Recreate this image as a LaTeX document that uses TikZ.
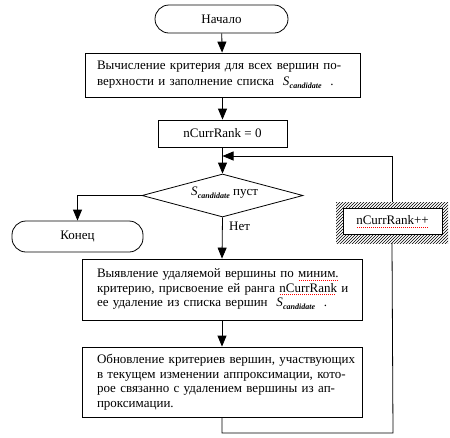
\documentclass[tikz,border=0pt]{standalone}
\usepackage{fontspec}
\setmainfont{Liberation Serif}
\usetikzlibrary{arrows.meta,shapes.geometric,patterns}
\newcommand\candS{\textit{S}\kern0.3pt\raisebox{-3pt}{\fontsize{8}{8}\selectfont\textit{\textbf{candidate}}}}
\newcommand\spl[1]{\leavevmode\setbox0\hbox{#1}\rlap{\raisebox{-2.8pt}{\textcolor{red}{\leaders\hbox to 2pt{\hss\rule{0.9pt}{0.9pt}\hss}\hskip\wd0}}}\box0\relax}
\begin{document}
\begin{tikzpicture}[x=1pt,y=-1pt,font=\fontsize{13}{14.5}\selectfont,
  box/.style={draw,line width=0.8pt,inner sep=0pt,align=left},
  term/.style={draw,line width=0.8pt,rounded corners=14pt,inner sep=0pt},
  dia/.style={draw,line width=0.8pt,diamond,inner sep=0pt},
  arr/.style={-{Triangle[width=9pt,length=11pt]},line width=0.8pt},
  ln/.style={line width=0.8pt}]
\useasboundingbox (0,0) rectangle (450,437);

\node[term,minimum width=133pt,minimum height=28pt] (start) at (221.5,19) {Начало};

\node[box,minimum width=275pt,minimum height=44pt,text width=251pt,
  font=\fontsize{13}{16}\selectfont] (calc) at (222.5,75)
  {\makebox[251pt][s]{Вычисление критерия для всех вершин по-}\\
   верхности и заполнение списка \ \candS\ \ .};

\node[box,minimum width=129pt,minimum height=27pt,align=center] (rank) at (222.5,133.5) {nCurrRank = 0};

\coordinate (m) at (222.5,156);

\node[dia,minimum width=161pt,minimum height=43pt] (cond) at (222.5,195.5) {};
\node at (224.5,193) {\candS\ пуст};

\node[term,minimum width=131pt,minimum height=31pt] (end) at (77.5,236.5) {Конец};

\node[box,minimum width=280pt,minimum height=61pt,text width=250pt] (sel) at (222,289.5)
  {\makebox[250pt][s]{Выявление удаляемой вершины по \spl{миним.}}\\
   \makebox[250pt][s]{критерию, присвоение ей ранга \spl{nCurrRank} и}\\
   ее удаление из списка вершин \ \candS\ \ .};

\node[box,minimum width=280pt,minimum height=70pt,text width=250pt] (upd) at (222,382)
  {\makebox[250pt][s]{Обновление критериев вершин, участвующих}\\
   \makebox[250pt][s]{в текущем изменении аппроксимации, кото-}\\
   \makebox[250pt][s]{рое связанно с удалением вершины из ап-}\\
   проксимации.};

\node[pattern=north east lines,minimum width=112pt,minimum height=41pt,inner sep=0pt] (hatch) at (392,222.5) {};
\node[draw,fill=white,line width=0.8pt,minimum width=99pt,minimum height=26pt,inner sep=0pt] (inc) at (392.5,221.5) {\spl{nCurrRank++}};

\coordinate (b2) at (393,433);

\draw[arr] (start) -- (calc);
\draw[arr] (calc) -- (rank);
\draw[arr] (rank) -- (cond);
\draw[arr] (cond.west) -| (end.north);
\draw[arr] (cond.south) -- (sel.north) node[pos=0.22,right=3pt] {Нет};
\draw[arr] (sel) -- (upd);
\draw[ln] (upd.south) |- (b2) -- (hatch.south);
\draw[arr] (hatch.north) |- (m);
\end{tikzpicture}
\end{document}
